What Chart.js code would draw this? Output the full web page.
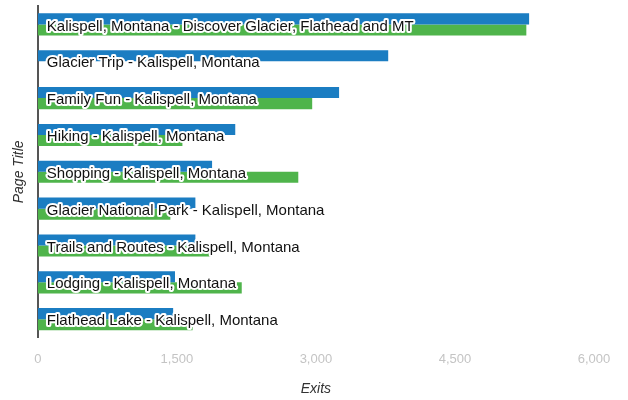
<!DOCTYPE html>
<html>
<head>
<meta charset="utf-8">
<script src="https://cdn.jsdelivr.net/npm/chart.js@4/dist/chart.umd.min.js"></script>
<style>
  html, body { margin:0; padding:0; background:#fff; }
  #wrap { width:628px; height:400px; }
</style>
</head>
<body>
<div id="wrap"><canvas id="c"></canvas></div>
<script>
/* page exits, two series */
const pages = [
  'Kalispell, Montana - Discover Glacier, Flathead and MT',
  'Glacier Trip - Kalispell, Montana',
  'Family Fun - Kalispell, Montana',
  'Hiking - Kalispell, Montana',
  'Shopping - Kalispell, Montana',
  'Glacier National Park - Kalispell, Montana',
  'Trails and Routes - Kalispell, Montana',
  'Lodging - Kalispell, Montana',
  'Flathead Lake - Kalispell, Montana'
];
const exitsA = [5300, 3780, 3250, 2130, 1880, 1700, 1700, 1480, 1460];
const exitsB = [5270, 0, 2960, 1560, 2810, 1430, 1880, 2200, 1670];
const xTicks = [0, 1500, 3000, 4500, 6000];

// draw page titles inside the bars, black text with white halo
const insideLabels = {
  id: 'insideLabels',
  afterDatasetsDraw(chart) {
    const ctx = chart.ctx, y = chart.scales.y, x = chart.scales.x;
    ctx.save();
    ctx.font = '15px Arial, "Liberation Sans", sans-serif';
    ctx.textBaseline = 'middle';
    ctx.lineJoin = 'round';
    pages.forEach((p, i) => {
      const py = y.getPixelForValue(i) + 2;
      const px = x.left + 9;
      ctx.strokeStyle = '#fff';
      ctx.lineWidth = 4;
      ctx.strokeText(p, px, py);
      ctx.fillStyle = '#111';
      ctx.fillText(p, px, py);
    });
    ctx.restore();
  }
};

new Chart(document.getElementById('c'), {
  type: 'bar',
  data: {
    labels: pages,
    datasets: [
      { data: exitsA, backgroundColor: '#1b7dc2' },
      { data: exitsB, backgroundColor: '#4fb44b' }
    ]
  },
  options: {
    indexAxis: 'y',
    responsive: true,
    maintainAspectRatio: false,
    animation: false,
    layout: { padding: { left: 11, right: 34, top: 6, bottom: 2 } },
    datasets: { bar: { barPercentage: 1, categoryPercentage: 0.6 } },
    plugins: { legend: { display: false }, tooltip: { enabled: false } },
    scales: {
      x: {
        min: 0, max: 6000,
        afterBuildTicks: s => { s.ticks = xTicks.map(v => ({ value: v })); },
        grid: { display: false },
        border: { display: false },
        ticks: {
          color: '#c4c4c4',
          font: { size: 13, family: 'Arial, "Liberation Sans", sans-serif' },
          padding: 6,
          callback: v => v.toLocaleString('en-US')
        },
        title: {
          display: true, text: 'Exits', color: '#333',
          font: { size: 14, style: 'italic', family: 'Arial, "Liberation Sans", sans-serif' },
          padding: { top: 8, bottom: 0 }
        }
      },
      y: {
        grid: { display: false },
        border: { display: true, color: '#555', width: 2 },
        ticks: { display: false },
        title: {
          display: true, text: 'Page Title', color: '#333',
          font: { size: 14, style: 'italic', family: 'Arial, "Liberation Sans", sans-serif' },
          padding: { top: 0, bottom: 2 }
        }
      }
    }
  },
  plugins: [insideLabels]
});
</script>
</body>
</html>
